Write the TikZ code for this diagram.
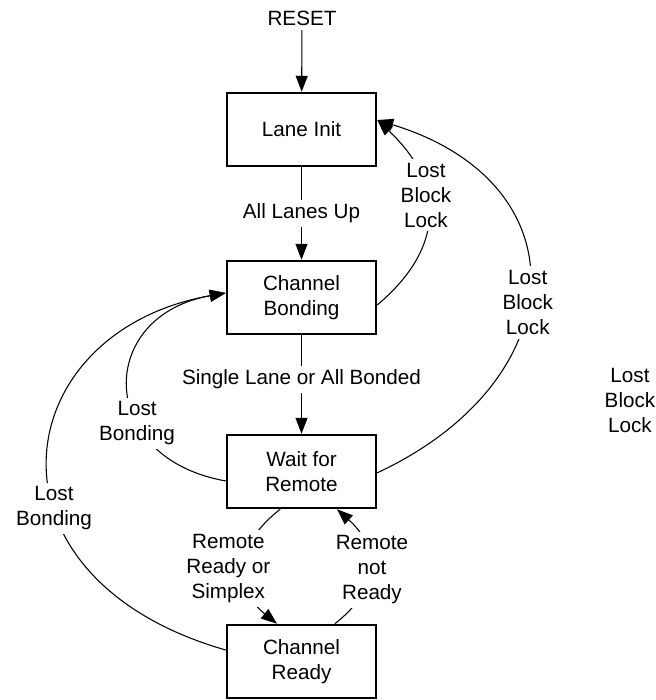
\documentclass[tikz,border=0pt]{standalone}
\usepackage{fontspec}
\setmainfont{Liberation Sans}
\usetikzlibrary{arrows.meta}

\begin{document}
\begin{tikzpicture}[x=0.75pt,y=0.75pt,
        font=\fontsize{15.5}{18.75}\selectfont,
        statebox/.style={draw,line width=1.6pt,minimum width=112pt,minimum height=55pt,align=center},
        edgelbl/.style={fill=white,align=center,inner sep=3pt},
        arr/.style={line width=0.8pt,-{Triangle[length=12pt,width=9pt]}}]
        \useasboundingbox (0,0) rectangle (656,-700);

        % States
        \node (reset) at (302,-18) {RESET};
        \node[statebox] (init) at (301.5,-129.5) {Lane Init};
        \node[statebox] (bond) at (301.5,-297.5) {Channel\\Bonding};
        \node[statebox] (wait) at (301.5,-471.5) {Wait for\\Remote};
        \node[statebox] (ready) at (301.5,-661.5) {Channel\\Ready};

        % Straight transitions
        \draw[arr] (reset) -- (init);
        \draw[arr] (init) -- node[edgelbl] {All Lanes Up} (bond);
        \draw[arr] (bond) -- node[edgelbl,pos=0.45] {Single Lane or All Bonded} (wait);

        % Remote handshake
        \draw[arr] ([xshift=-16pt]wait.south) to[out=218,in=141,looseness=1.3]
            node[edgelbl,pos=0.52,xshift=-12pt] {Remote\\Ready or\\Simplex} ([xshift=-18.4pt]ready.north);
        \draw[arr] ([xshift=25pt]ready.north) to[out=38,in=-42,looseness=1.3]
            node[edgelbl,pos=0.48,xshift=2pt] {Remote\\not\\Ready} ([xshift=26.6pt]wait.south);

        % Lost bonding
        \draw[arr] ([yshift=8.6pt]ready.west) to[out=164,in=190,out looseness=1.9,in looseness=1.6]
            node[edgelbl,pos=0.39] {Lost\\Bonding} ([yshift=3.4pt]bond.west);
        \draw[arr] ([yshift=-7.1pt]wait.west) to[out=170,in=190,looseness=1.8]
            node[edgelbl,pos=0.35] {Lost\\Bonding} ([yshift=3.4pt]bond.west);

        % Lost block lock
        \draw[arr] ([yshift=-5.6pt]bond.east) to[out=40,in=-43,looseness=1.26]
            node[edgelbl,pos=0.6] {Lost\\Block\\Lock} ([yshift=7.1pt]init.east);
        \draw[arr] ([yshift=-1pt]wait.east) to[out=25,in=-17,looseness=1.58]
            node[edgelbl,pos=0.46] {Lost\\Block\\Lock} ([yshift=7.1pt]init.east);
        \node[align=center] (lbl) at (630,-400) {Lost\\Block\\Lock};
    \end{tikzpicture}
\end{document}
